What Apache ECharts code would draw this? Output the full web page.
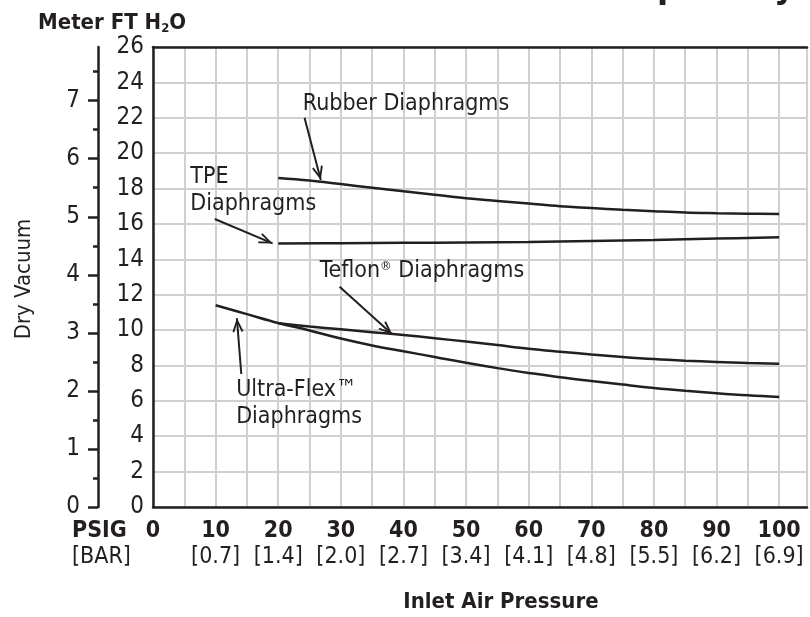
<!DOCTYPE html>
<html>
<head>
<meta charset="utf-8">
<script src="https://cdn.jsdelivr.net/npm/echarts@6/dist/echarts.min.js"></script>
<style>
html,body{margin:0;padding:0;background:#fff}
#main{width:810px;height:617px}
</style>
</head>
<body>
<div id="main"></div>
<script>
// inlet air pressure ticks and the bar equivalents printed below them
var psigTicks = [0,10,20,30,40,50,60,70,80,90,100];
var barTicks  = ['', '0.7','1.4','2.0','2.7','3.4','4.1','4.8','5.5','6.2','6.9'];
var meterTicks = [0,1,2,3,4,5,6,7];
var meterMinor = [0.5,1.5,2.5,3.5,4.5,5.5,6.5,7.5];

// dry vacuum, ft H2O
var rubberX = [20,25,30,35,40,45,50,55,60,65,70,75,80,85,90,95,100];
var rubberY = [18.6,18.45,18.25,18.05,17.85,17.65,17.45,17.3,17.15,17.0,16.9,16.8,16.72,16.65,16.61,16.58,16.56];
var tpeX = [20,30,40,50,60,70,80,90,100];
var tpeY = [14.9,14.91,14.93,14.95,14.98,15.03,15.09,15.17,15.25];
var teflonX = [20,25,30,35,40,45,50,55,60,65,70,75,80,85,90,95,100];
var teflonY = [10.38,10.2,10.04,9.88,9.72,9.54,9.35,9.15,8.95,8.78,8.62,8.48,8.36,8.27,8.2,8.14,8.1];
var ultraX = [10,15,20,25,30,35,40,45,50,55,60,65,70,75,80,85,90,95,100];
var ultraY = [11.4,10.9,10.4,9.98,9.52,9.13,8.8,8.48,8.15,7.85,7.58,7.33,7.12,6.92,6.73,6.57,6.43,6.31,6.22];

var FONT = '"Liberation Sans Narrow","DejaVu Sans Condensed",sans-serif';
var INK = '#231f20';
var GRID = '#d0d0d0';
var FT_TO_M = 0.3048;

function zip(xs, ys) {
    var out = [];
    for (var i = 0; i < xs.length; i++) out.push([xs[i], ys[i]]);
    return out;
}

var chevron = 'path://M5,0 L10,12 L8.4,12.7 L5,4.2 L1.6,12.7 L0,12 Z';

function curve(name, xs, ys, note, at, from, to) {
    return {
        name: name,
        type: 'line',
        data: zip(xs, ys),
        smooth: 0.4,
        showSymbol: false,
        silent: true,
        lineStyle: {color: INK, width: 2.5},
        markLine: {
            silent: true,
            symbol: ['none', chevron],
            symbolSize: [11, 14],
            symbolOffset: [0, [0, 7]],
            label: {show: false},
            lineStyle: {color: INK, width: 2, type: 'solid'},
            data: [[{coord: from}, {coord: to}]]
        },
        markPoint: {
            silent: true,
            symbol: 'circle',
            symbolSize: 1,
            itemStyle: {color: 'rgba(0,0,0,0)'},
            label: {
                show: true,
                position: 'right',
                distance: 0,
                align: 'left',
                verticalAlign: 'middle',
                color: INK,
                fontFamily: FONT,
                fontSize: 23,
                lineHeight: 27,
                formatter: note,
                rich: {
                    sup: {fontFamily: FONT, fontSize: 13, color: INK, padding: [0, 0, 10, 0]}
                }
            },
            data: [{coord: at}]
        }
    };
}

var chart = echarts.init(document.getElementById('main'));

var option = {
    animation: false,
    backgroundColor: '#fff',
    grid: {left: 153, top: 47, right: 0, bottom: 110},
    xAxis: [{
        type: 'value',
        min: 0,
        max: 104.45,
        interval: 5,
        axisLine: {onZero: false, lineStyle: {color: INK, width: 2.5}},
        axisTick: {show: false},
        splitLine: {lineStyle: {color: GRID, width: 2}},
        axisLabel: {
            margin: 12,
            color: INK,
            fontFamily: FONT,
            formatter: function (v) {
                var i = psigTicks.indexOf(v);
                if (i < 0) return '';
                if (!barTicks[i]) return '{b|' + v + '}';
                return '{b|' + v + '}\n{n|[' + barTicks[i] + ']}';
            },
            rich: {
                b: {fontFamily: FONT, fontSize: 23, fontWeight: 'bold', color: INK, lineHeight: 25},
                n: {fontFamily: FONT, fontSize: 23, color: INK, lineHeight: 26}
            }
        }
    }, {
        type: 'value',
        position: 'top',
        min: 0,
        max: 104.45,
        axisLine: {onZero: false, lineStyle: {color: INK, width: 2.5}},
        axisTick: {show: false},
        axisLabel: {show: false},
        splitLine: {show: false}
    }],
    yAxis: [{
        type: 'value',
        min: 0,
        max: 26,
        interval: 2,
        axisLine: {show: true, onZero: false, lineStyle: {color: INK, width: 2.5}},
        axisTick: {show: false},
        splitLine: {lineStyle: {color: GRID, width: 2}},
        axisLabel: {margin: 9, padding: [6, 0, 0, 0], color: INK, fontFamily: FONT, fontSize: 24}
    }, {
        type: 'value',
        position: 'left',
        offset: 55,
        min: 0,
        max: 26 * FT_TO_M,
        axisLine: {show: true, onZero: false, lineStyle: {color: INK, width: 2.5}},
        axisTick: {show: true, inside: false, length: 10, customValues: meterTicks, lineStyle: {color: INK, width: 2.5}},
        axisLabel: {margin: 18, padding: [4, 0, 0, 0], color: INK, fontFamily: FONT, fontSize: 24, customValues: meterTicks},
        splitLine: {show: false}
    }, {
        type: 'value',
        position: 'left',
        offset: 55,
        min: 0,
        max: 26 * FT_TO_M,
        axisLine: {show: false, onZero: false},
        axisTick: {show: true, inside: false, length: 5, customValues: meterMinor, lineStyle: {color: INK, width: 2.5}},
        axisLabel: {show: false},
        splitLine: {show: false}
    }],
    graphic: [
        {type: 'text', x: 795, y: -11, style: {
            text: 'Plastic Suction Lift Capability', align: 'right', verticalAlign: 'middle',
            font: 'bold 36px ' + FONT, fill: INK}},
        {type: 'text', x: 38, y: 23, style: {
            text: '{m|Meter FT H}{s|2}{m|O}', verticalAlign: 'middle',
            rich: {
                m: {fontFamily: FONT, fontWeight: 'bold', fontSize: 22, fill: INK},
                s: {fontFamily: FONT, fontWeight: 'bold', fontSize: 13, fill: INK, padding: [12, 0, 0, 0]}
            }}},
        {type: 'text', x: 24, y: 279, rotation: Math.PI / 2, style: {
            text: 'Dry Vacuum', align: 'center', verticalAlign: 'middle',
            font: '22px ' + FONT, fill: INK}},
        {type: 'text', x: 72, y: 531, style: {
            text: 'PSIG', verticalAlign: 'middle', font: 'bold 23px ' + FONT, fill: INK}},
        {type: 'text', x: 72, y: 557, style: {
            text: '[BAR]', verticalAlign: 'middle', font: '23px ' + FONT, fill: INK}},
        {type: 'text', x: 501, y: 602, style: {
            text: 'Inlet Air Pressure', align: 'center', verticalAlign: 'middle',
            font: 'bold 22px ' + FONT, fill: INK}}
    ],
    series: [
        curve('Rubber Diaphragms', rubberX, rubberY, 'Rubber Diaphragms', [23.85, 22.76], [24.2, 22.0], [26.8, 18.48]),
        curve('TPE Diaphragms', tpeX, tpeY, 'TPE\nDiaphragms', [5.88, 17.87], [9.86, 16.28], [19.1, 14.9]),
        curve('Teflon Diaphragms', teflonX, teflonY, 'Teflon{sup|®} Diaphragms', [26.55, 13.32], [29.8, 12.45], [38.2, 9.76]),
        curve('Ultra-Flex Diaphragms', ultraX, ultraY, 'Ultra-Flex™\nDiaphragms', [13.2, 5.83], [14.1, 7.52], [13.4, 10.67])
    ]
};

chart.setOption(option);
</script>
</body>
</html>
